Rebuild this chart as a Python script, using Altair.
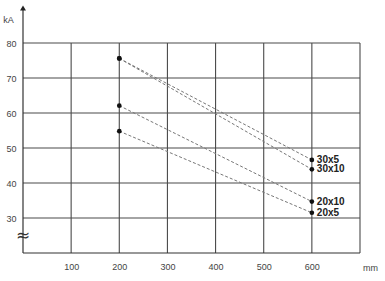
import altair as alt
import pandas as pd

# data
sizes = ["30x5", "30x10", "20x10", "20x5"]
start_len = [200, 200, 200, 200]
end_len = [600, 600, 600, 600]
start_ka = [75.6, 75.6, 62.1, 54.8]
end_ka = [46.6, 43.9, 34.7, 31.5]

x_grid = [100, 200, 300, 400, 500, 600, 700]
y_grid = [30, 40, 50, 60, 70, 80]
x_ticks = [100, 200, 300, 400, 500, 600]

lines = pd.DataFrame(
    [{"size": s, "len": a, "ka": v} for s, a, v in zip(sizes, start_len, start_ka)]
    + [{"size": s, "len": b, "ka": v} for s, b, v in zip(sizes, end_len, end_ka)]
)
ends = pd.DataFrame({"size": sizes, "len": end_len, "ka": end_ka})
starts = pd.DataFrame({"len": start_len, "ka": start_ka})

xs = alt.Scale(domain=[0, 700], nice=False, zero=False)
ys = alt.Scale(domain=[20, 90], nice=False, zero=False)
grid_col = "#4a4a4a"
axis_col = "#333"
font = "Liberation Sans"

x_axis = alt.Axis(
    values=x_ticks, ticks=False, grid=False, domain=False,
    labelFont=font, labelFontSize=9, labelColor="#444", labelPadding=9,
    title="mm", titleFont=font, titleFontSize=9, titleColor="#444", titleFontWeight="normal",
    titleX=347, titleY=14, titleAlign="center", titleBaseline="middle",
)
y_axis = alt.Axis(
    values=y_grid, ticks=False, grid=False, domain=False,
    labelFont=font, labelFontSize=9, labelColor="#444", labelPadding=7,
    title="kA", titleFont=font, titleFontSize=9, titleColor="#444", titleFontWeight="normal",
    titleAngle=0, titleX=-15, titleY=11, titleAlign="center", titleBaseline="middle",
)


def X(f):
    return alt.X(f, scale=xs, axis=x_axis, title="mm")


def Y(f):
    return alt.Y(f, scale=ys, axis=y_axis, title="kA")


vgrid = alt.Chart(pd.DataFrame({"x": x_grid, "y": [20] * len(x_grid), "y2": [80] * len(x_grid)})).mark_rule(
    color=grid_col, strokeWidth=1.1
).encode(x=X("x:Q"), y=Y("y:Q"), y2="y2:Q")

hgrid = alt.Chart(pd.DataFrame({"y": y_grid, "x": [0] * len(y_grid), "x2": [700] * len(y_grid)})).mark_rule(
    color=grid_col, strokeWidth=1.1
).encode(y=Y("y:Q"), x=X("x:Q"), x2="x2:Q")

# axis lines: vertical kA axis up to the arrow, and the bottom baseline
y_line = alt.Chart(pd.DataFrame({"x": [0], "y": [20], "y2": [90]})).mark_rule(
    color=axis_col, strokeWidth=1.2
).encode(x=X("x:Q"), y=Y("y:Q"), y2="y2:Q")

x_line = alt.Chart(pd.DataFrame({"y": [20], "x": [0], "x2": [700]})).mark_rule(
    color=axis_col, strokeWidth=1.2
).encode(y=Y("y:Q"), x=X("x:Q"), x2="x2:Q")

arrow = alt.Chart(pd.DataFrame({"x": [0], "y": [90]})).mark_point(
    shape="triangle-up", filled=True, color="#222", size=35, opacity=1
).encode(x=X("x:Q"), y=Y("y:Q"))

brk = alt.Chart(pd.DataFrame({"x": [0], "y": [25.0], "t": ["≈"]})).mark_text(
    font="DejaVu Sans", fontSize=17, color="#333"
).encode(x=X("x:Q"), y=Y("y:Q"), text="t:N")

dashed = alt.Chart(lines).mark_line(color="#777", strokeWidth=1, strokeDash=[3, 2]).encode(
    x=X("len:Q"), y=Y("ka:Q"), detail="size:N"
)

pts = alt.Chart(pd.concat([starts, ends[["len", "ka"]]])).mark_circle(color="#111", size=22, opacity=1).encode(
    x=X("len:Q"), y=Y("ka:Q")
)

labels = alt.Chart(ends).mark_text(
    align="left", dx=5, font=font, fontSize=10, fontWeight="bold", color="#222"
).encode(x=X("len:Q"), y=Y("ka:Q"), text="size:N")

chart = alt.layer(vgrid, hgrid, y_line, x_line, dashed, pts, labels, arrow, brk).properties(
    width=337, height=245,
    background="white",
    autosize=alt.AutoSizeParams(type="none"),
    padding={"left": 23, "top": 8, "right": 25, "bottom": 28},
).configure_view(stroke="transparent").configure_axis(grid=False)

chart.save("out.html", embed_options={"renderer": "svg", "actions": False})
